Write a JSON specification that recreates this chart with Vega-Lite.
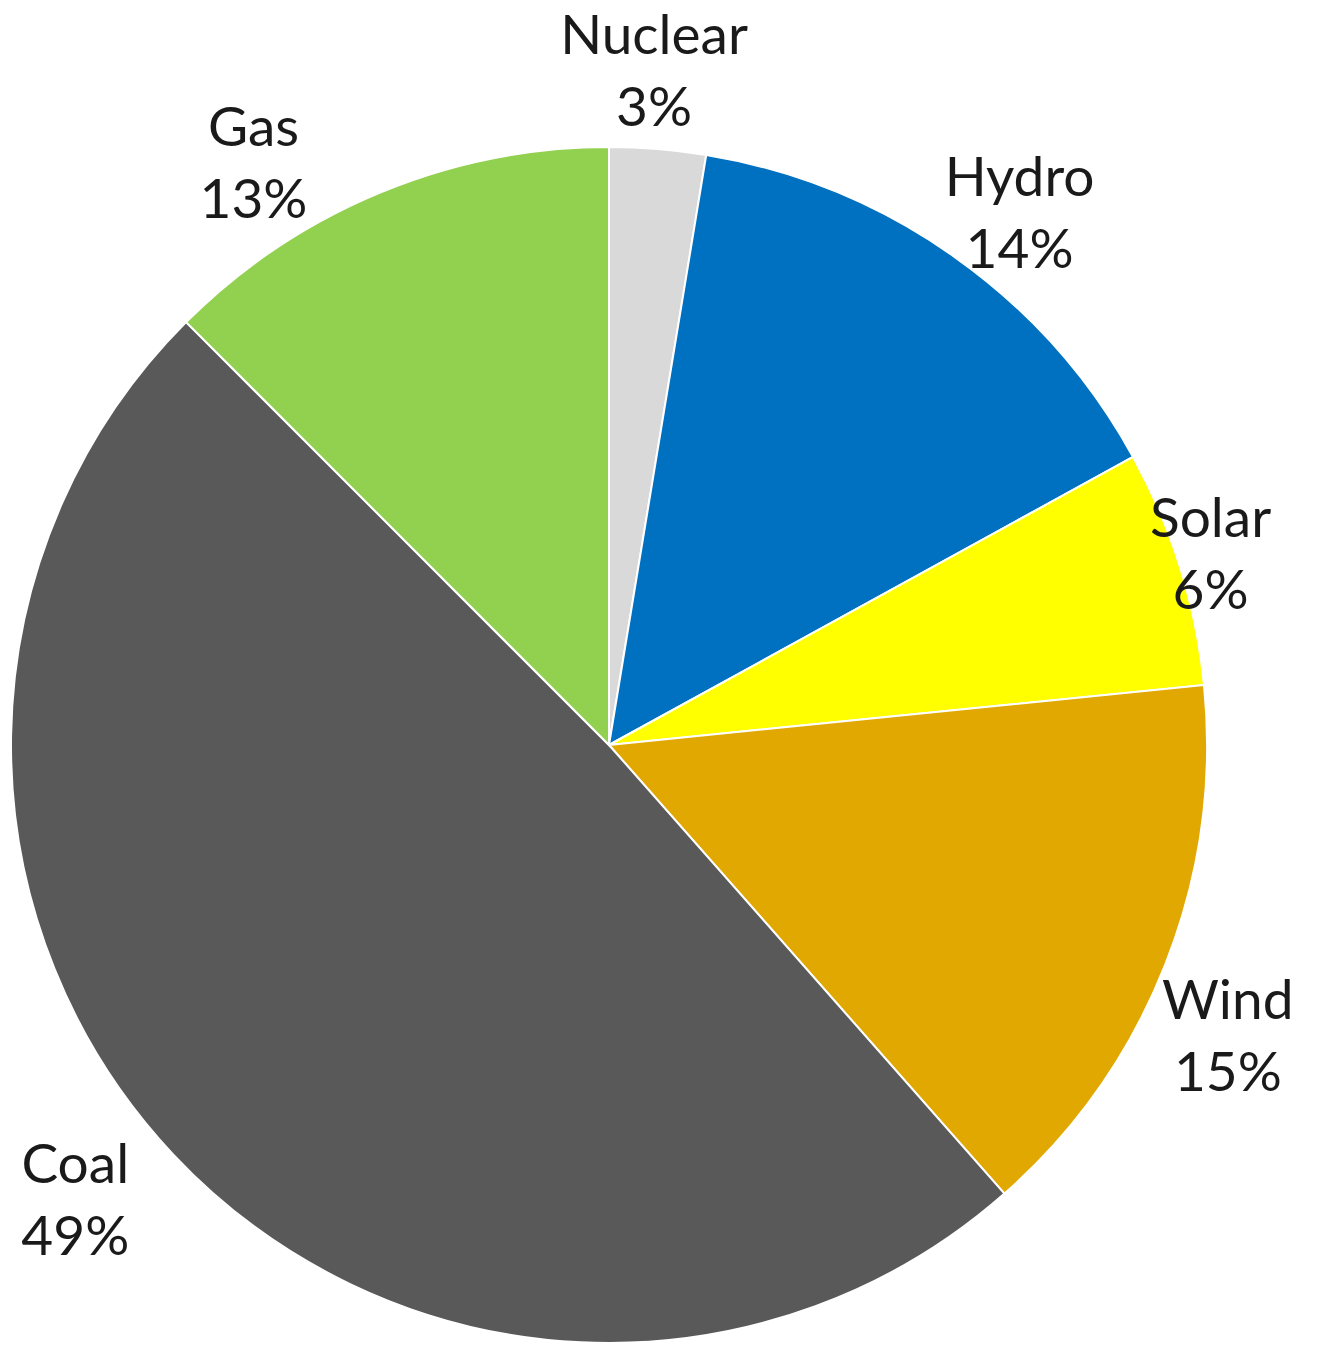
{
  "$schema": "https://vega.github.io/schema/vega-lite/v6.json",
  "width": 1196,
  "height": 1196,
  "autosize": {"type": "none"},
  "padding": {"left": 11, "top": 147, "right": 114, "bottom": 27},
  "background": "white",
  "view": {"stroke": null},
  "data": {
    "values": [
      {"source": "Nuclear", "value": 2.6, "pct": "3%", "rank": 1},
      {"source": "Hydro", "value": 14.4, "pct": "14%", "rank": 2},
      {"source": "Solar", "value": 6.4, "pct": "6%", "rank": 3},
      {"source": "Wind", "value": 15.1, "pct": "15%", "rank": 4},
      {"source": "Coal", "value": 49.0, "pct": "49%", "rank": 5},
      {"source": "Gas", "value": 12.5, "pct": "13%", "rank": 6}
    ]
  },
  "encoding": {
    "theta": {"field": "value", "type": "quantitative", "stack": true},
    "order": {"field": "rank", "type": "quantitative", "sort": "ascending"}
  },
  "layer": [
    {
      "mark": {"type": "arc", "stroke": "white", "strokeWidth": 2},
      "encoding": {
        "color": {
          "field": "source",
          "type": "nominal",
          "scale": {
            "domain": ["Nuclear", "Hydro", "Solar", "Wind", "Coal", "Gas"],
            "range": ["#D9D9D9", "#0070C0", "#FFFF00", "#E0A800", "#595959", "#92D050"]
          },
          "legend": null
        }
      }
    },
    {
      "mark": {"type": "text", "fontSize": 55, "font": "Lato", "color": "#1a1a1a", "baseline": "middle", "align": "center",
        "radius": {"expr": "({'Nuclear':675,'Hydro':671,'Solar':630,'Wind':683,'Coal':702,'Gas':673})[datum.source]"},
        "dx": {"expr": "({'Nuclear':-10,'Hydro':23,'Solar':0,'Wind':-17,'Coal':-22,'Gas':-98})[datum.source]"},
        "dy": {"expr": "-36 + ({'Nuclear':1,'Hydro':18,'Solar':-2,'Wind':44,'Coal':-24,'Gas':42})[datum.source]"}},
      "encoding": {"text": {"field": "source", "type": "nominal"}}
    },
    {
      "mark": {"type": "text", "fontSize": 55, "font": "Lato", "color": "#1a1a1a", "baseline": "middle", "align": "center",
        "radius": {"expr": "({'Nuclear':675,'Hydro':671,'Solar':630,'Wind':683,'Coal':702,'Gas':673})[datum.source]"},
        "dx": {"expr": "({'Nuclear':-10,'Hydro':23,'Solar':0,'Wind':-17,'Coal':-22,'Gas':-98})[datum.source]"},
        "dy": {"expr": "36 + ({'Nuclear':1,'Hydro':18,'Solar':-2,'Wind':44,'Coal':-24,'Gas':42})[datum.source]"}},
      "encoding": {"text": {"field": "pct", "type": "nominal"}}
    }
  ]
}
